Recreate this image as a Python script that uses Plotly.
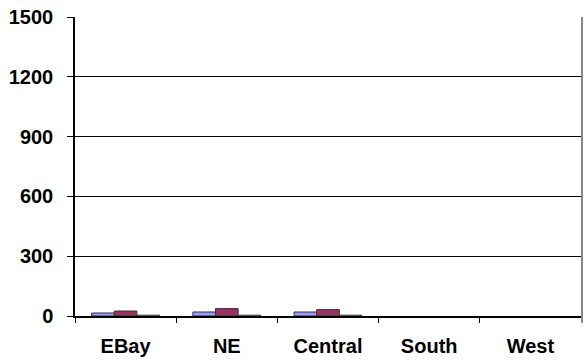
import plotly.graph_objects as go

regions = ["EBay", "NE", "Central", "South", "West"]
series_a = [15, 20, 20, None, None]
series_b = [25, 37, 32, None, None]
series_c = [4, 4, 4, None, None]
y_ticks = [0, 300, 600, 900, 1200, 1500]

family = "Liberation Sans, Arial, sans-serif"
tick_font = dict(family=family, size=20, color="black", weight="bold")

fig = go.Figure()
for vals, color in [(series_a, "#9999FF"), (series_b, "#993366"), (series_c, "#FFFFCC")]:
    fig.add_trace(go.Bar(
        x=regions, y=vals,
        marker=dict(color=color, line=dict(color="#333333", width=1)),
        showlegend=False,
    ))

fig.update_layout(
    width=585, height=361,
    margin=dict(l=75, r=4, t=17, b=45),
    paper_bgcolor="white", plot_bgcolor="white",
    barmode="group", bargap=0.33, bargroupgap=0,
    font=dict(family=family, color="black"),
    xaxis=dict(
        type="category", showline=True, linecolor="black", linewidth=1.5,
        ticks="outside", tickson="boundaries", ticklen=5, tickcolor="black",
        tickfont=tick_font, ticklabelstandoff=11,
        showgrid=False,
    ),
    yaxis=dict(
        range=[0, 1500], tickvals=y_ticks, showline=True, linecolor="black",
        linewidth=1.5, ticks="outside", ticklen=6, tickcolor="black",
        showgrid=True, gridcolor="black", gridwidth=1, zeroline=False,
        tickfont=tick_font, ticklabelstandoff=10,
    ),
    shapes=[dict(type="line", xref="paper", yref="paper", x0=1.002, x1=1.002,
                 y0=1, y1=-0.023, line=dict(color="#888888", width=2))],
)

fig.write_html("out.html")
